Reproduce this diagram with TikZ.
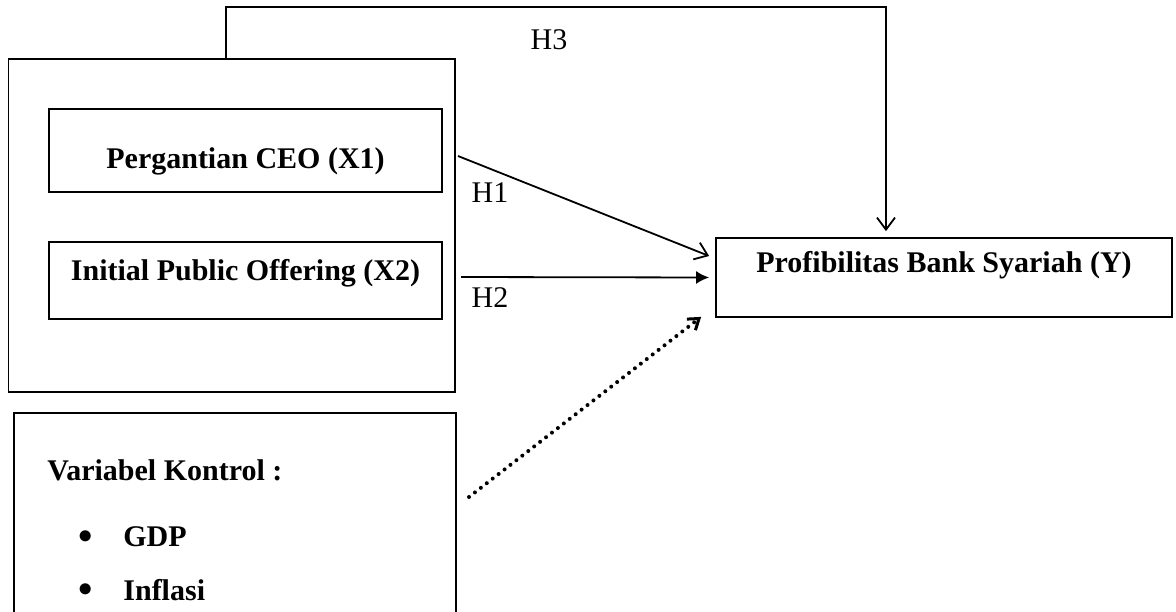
\documentclass[tikz,border=0pt]{standalone}
\usepackage{fontspec}
\setmainfont{Liberation Serif}
\usetikzlibrary{arrows.meta}

\tikzset{
  txt/.style={font=\fontsize{15}{18}\selectfont, inner sep=0pt},
  bold/.style={txt, font=\fontsize{15}{18}\selectfont\bfseries},
  varbox/.style={draw, line width=0.9pt, bold, inner sep=0pt},
  openhead/.style={line width=0.9pt, -{Straight Barb[length=6pt,width=9pt]}},
  fullhead/.style={line width=0.9pt, -{Latex[length=6.5pt,width=6.5pt]}},
  dothead/.style={line width=2pt, line cap=round, dash pattern=on 0pt off 3.75pt,
    -{Straight Barb[length=5pt,width=7pt,line width=1.5pt]}}
}

\begin{document}
\begin{tikzpicture}[x=0.5pt,y=-0.5pt]

\clip (0,0) rectangle (1176,611);

% independent variables
\node[draw, line width=0.9pt, minimum width=223.25pt, minimum height=166.5pt] (G) at (231.75,225.5) {};
\node[varbox, minimum width=196.5pt, minimum height=41.5pt, text height=20.5pt, text depth=3pt] (X1) at (245.5,150.5) {Pergantian CEO (X1)};
\node[varbox, minimum width=196.5pt, minimum height=38.5pt, text height=11pt, text depth=11.5pt] (X2) at (245.5,280.5) {Initial Public Offering (X2)};

% dependent variable
\node[varbox, minimum width=228pt, minimum height=39.5pt, text height=11pt, text depth=16.5pt] (Y) at (944,277.5) {Profibilitas Bank Syariah (Y)};

% control variables
\node[draw, line width=0.9pt, minimum width=221pt, minimum height=123.5pt] (K) at (235,536.5) {};
\node[bold, anchor=west] (kt) at (47,470) {Variabel Kontrol :};
\foreach \v/\y in {GDP/537, Inflasi/590} {
  \node[txt] (dot-\y) at (86,\y) {$\bullet$};
  \node[bold, anchor=west] (kv-\y) at (123,\y) {\v};
}

% hypotheses
\coordinate (h1s) at (458,156);
\coordinate (h2s) at (461,277);
\coordinate (ks) at (469,497);
\coordinate (top) at (886,7);

\draw[openhead] (h1s) -- ([xshift=-3pt,yshift=10.75pt]Y.west);
\draw[fullhead, shorten >=3pt] (h2s) -- (Y.west);
\draw[dothead] (ks) -- ([xshift=-7pt,yshift=0.5pt]Y.south west);
\draw[openhead, shorten >=3pt] ([xshift=-2.9pt]G.north) |- (top) -- (top |- Y.north);

\node[txt] (h1) at (490,193) {H1};
\node[txt] (h2) at (490,298) {H2};
\node[txt] (h3) at (549,40) {H3};

\end{tikzpicture}
\end{document}
